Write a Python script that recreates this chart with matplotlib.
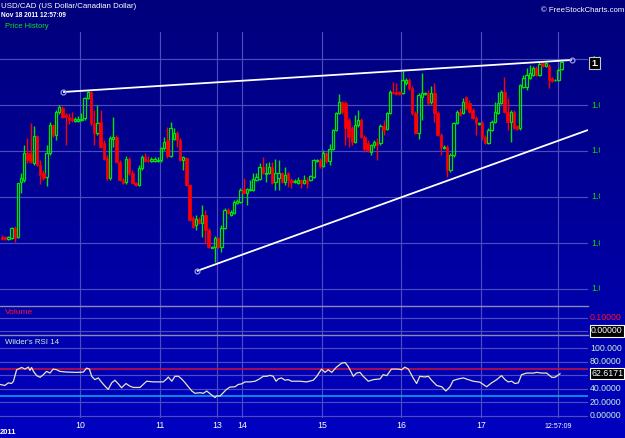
import numpy as np
import matplotlib
matplotlib.use("Agg")
import matplotlib.pyplot as plt
from matplotlib.patches import Rectangle
from matplotlib.colors import LinearSegmentedColormap
from matplotlib.transforms import Bbox, TransformedBbox, blended_transform_factory

# ---------------- data (hourly USD/CAD bars, prices in pips above 1.0000) ----------------
open_pips = [152,152,150,151,161,152,207,209,236,236,
             226,253,224,216,212,236,264,254,277,281,
             274,272,271,268,268,269,271,291,297,266,
             256,267,246,231,211,250,252,227,209,207,
             230,216,206,204,221,232,229,228,228,228,
             229,241,249,233,250,256,249,229,231,204,
             171,164,170,166,174,159,141,142,151,142,
             161,179,174,176,186,187,200,196,199,199,
             209,210,222,215,216,222,207,211,216,207,
             216,209,207,206,209,206,209,209,212,228,
             229,223,236,228,240,259,276,287,286,269,
             261,247,264,269,252,246,237,244,247,246,
             263,260,276,297,297,297,296,306,309,301,
             276,256,292,295,296,287,296,276,254,241,
             242,219,234,266,277,276,292,286,279,271,
             265,266,252,246,259,267,276,286,297,277,
             267,277,263,261,302,302,311,314,321,314,
             326,323,323,311,309,309,320]
high_pips = [154,153,153,162,163,206,216,244,251,266,
             263,254,229,219,244,267,265,279,284,283,
             276,276,277,272,273,276,292,298,298,279,
             284,279,249,234,253,272,254,229,211,233,
             232,219,207,224,234,236,233,232,232,232,
             242,252,262,267,261,258,251,233,232,205,
             173,174,172,184,179,161,143,153,152,164,
             181,181,179,189,190,201,211,201,209,216,
             216,226,232,226,227,227,230,229,217,222,
             217,211,210,212,210,214,212,214,230,230,
             231,239,237,245,260,277,295,288,288,271,
             263,274,279,271,254,249,245,249,251,265,
             269,277,299,307,306,298,318,311,311,303,
             278,296,316,297,299,303,306,278,256,244,
             244,236,267,279,281,291,293,289,281,273,
             267,268,254,261,269,287,297,299,312,291,
             279,279,264,305,314,321,324,323,323,327,
             327,327,325,312,310,321,328]
low_pips = [149,149,149,150,147,151,196,207,226,226,
            224,223,205,209,203,234,252,249,275,271,
            244,265,267,267,267,268,269,290,264,244,
            254,241,229,209,209,242,226,208,205,205,
            214,205,203,203,219,227,227,227,227,227,
            227,239,231,232,249,242,228,219,203,168,
            161,159,165,152,146,141,141,127,141,137,
            160,175,173,175,185,186,195,184,198,198,
            208,209,215,207,215,205,199,199,206,204,
            202,201,206,205,201,205,201,208,211,227,
            221,222,226,224,239,258,275,275,244,242,
            244,246,262,251,237,237,234,241,229,244,
            254,259,275,295,294,294,295,304,299,274,
            255,250,269,294,284,285,267,253,234,240,
            212,217,232,265,273,275,279,276,270,254,
            264,249,245,245,258,266,275,285,276,259,
            247,260,259,259,301,299,310,313,313,313,
            322,322,301,307,308,308,319]
close_pips = [150,150,152,161,151,206,211,236,229,227,
              253,224,214,211,236,264,254,277,282,272,
              272,269,269,270,270,270,291,297,266,256,
              266,242,230,211,251,252,227,209,206,230,
              216,206,204,221,232,228,228,230,230,229,
              241,247,233,261,256,249,229,232,204,169,
              162,170,166,174,159,142,142,151,142,161,
              179,176,177,187,188,199,196,200,200,210,
              212,222,216,216,222,206,216,216,207,214,
              209,207,208,209,206,209,206,213,229,229,
              223,236,228,240,259,276,287,277,261,252,
              247,264,269,252,240,239,244,247,244,263,
              259,276,297,296,295,295,309,309,301,276,
              256,294,296,296,286,296,276,254,242,242,
              219,234,266,277,274,287,281,277,271,266,
              266,252,246,259,267,277,286,297,277,267,
              277,261,260,304,311,314,316,321,314,325,
              323,326,309,308,309,319,327]

# Wilder's RSI 14 (bar position, value)
rsi_bar = [-0.6,0.9,2.0,3.0,3.6,4.6,6.2,7.2,8.3,8.8,9.3,9.9,10.9,12.0,13.0,14.0,15.1,16.1,17.2,18.2,
           20.3,23.5,25.6,26.6,27.5,28.2,29.2,30.3,31.3,32.4,33.4,34.5,35.5,36.6,37.6,39.0,40.2,41.3,43.4,44.4,
           45.5,47.6,50.7,51.8,52.3,53.4,54.4,55.5,56.5,57.6,58.6,59.7,60.7,62.3,63.3,64.4,65.4,67.0,67.5,68.6,
           69.6,70.6,71.7,73.3,74.3,75.4,76.4,78.0,79.6,80.6,82.2,83.2,84.3,85.3,86.2,86.9,87.9,89.0,90.0,91.1,
           93.7,95.8,97.9,99.0,100.5,101.6,102.6,103.7,105.2,106.8,107.9,108.9,110.5,111.5,112.6,113.6,115.2,116.8,118.9,119.9,
           121.0,122.5,124.6,125.7,126.7,127.8,129.3,130.4,131.4,133.0,134.1,135.1,136.7,138.3,139.6,140.9,141.9,143.5,145.1,146.6,
           148.2,150.3,152.4,154.0,155.6,157.1,158.2,159.2,160.3,161.3,162.4,163.4,165.0,167.1,168.2,169.7,171.3,172.9,173.9,175.5]
rsi_val = [46.7,45.2,49.1,48.1,51.5,68.5,71.9,69.5,72.4,67.5,71.9,66.1,59.8,57.3,61.2,66.1,63.6,69.5,68.5,66.1,
           65.1,64.6,65.1,70.9,69.5,58.8,53.9,56.4,50.1,44.2,39.4,49.1,53.0,47.6,41.8,48.1,44.2,42.3,42.3,46.7,
           51.5,50.5,50.5,54.9,57.8,51.5,58.8,58.8,54.9,49.1,43.3,37.0,33.6,34.5,33.6,37.0,33.1,27.3,29.7,29.7,
           34.5,39.4,42.8,43.3,46.7,47.6,50.5,50.5,51.5,53.9,58.8,58.8,60.2,58.8,51.5,54.9,56.4,53.0,53.9,51.5,
           51.5,50.5,53.0,58.8,69.5,64.6,68.5,64.6,72.4,78.2,79.2,73.3,58.8,63.6,64.6,58.8,51.5,53.9,54.9,61.2,
           59.8,69.5,69.5,68.5,72.4,69.5,56.4,48.1,58.8,57.8,58.8,53.0,45.2,43.3,37.0,43.3,52.5,54.9,56.4,53.9,
           51.5,50.1,43.3,49.1,53.9,59.8,53.9,50.5,51.5,48.1,49.1,61.2,63.6,63.6,64.6,63.6,63.6,57.3,57.3,62.6]
rsi_last = "62.6171"

# trendlines (bar position, price)
top_line_bar = [19.2, 179.2]
top_line_price = [1.0297, 1.0329]
low_line_bar = [61.3, 184.3]
low_line_price = [1.0118, 1.0259]

# axes / ticks
day_ticks = [24.5, 49.7, 67.6, 75.5, 100.6, 125.5, 150.6, 174.8]
day_labels = ["10", "11", "13", "14", "15", "16", "17", "12:57:09"]
price_levels = [1.0100, 1.0146, 1.0192, 1.0238, 1.0284, 1.0330]
last_price = "1.0327"
rsi_levels = [0, 20, 40, 60, 80, 100]
rsi_labels = ["0.00000", "20.0000", "40.0000", "60.0000", "80.0000", "100.000"]
vol_levels = [0.0, 0.1]

# ---------------- drawing ----------------
W, H = 625, 438
fig = plt.figure(figsize=(W / 100, H / 100), dpi=100)
FONT = ["Liberation Sans", "DejaVu Sans"]

def fx(px):
    return px / W

def fy(py):
    return 1 - py / H

bgax = fig.add_axes([0, 0, 1, 1], zorder=-10)
grad = np.linspace(0, 1, 256).reshape(-1, 1)
cmap = LinearSegmentedColormap.from_list("bg", ["#00007c", "#00009a", "#0000c2"])
bgax.imshow(grad, aspect="auto", cmap=cmap, extent=[0, 1, 0, 1], origin="upper")
bgax.axis("off")

GRID = "#4c4cc0"
GREEN = "#00e400"
RED = "#ff0000"
XL = (-0.63, 184.3)

def panel(rect):
    a = fig.add_axes(rect)
    a.set_facecolor("none")
    for s in a.spines.values():
        s.set_visible(False)
    a.set_xticks([])
    a.set_yticks([])
    a.set_xlim(*XL)
    for d in day_ticks:
        a.axvline(d, color=GRID, lw=0.85, zorder=0)
    return a

ax = panel([0, fy(306), fx(588), (306 - 32) / H])
axv = panel([0, fy(335), fx(588), 29 / H])
axr = panel([0, fy(418), fx(588), 83 / H])

# price panel
ax.set_ylim(1.0083, 1.0357)
for lv in price_levels:
    ax.axhline(lv, color=GRID, lw=0.85, zorder=0)

o = 1 + np.array(open_pips) / 10000
h = 1 + np.array(high_pips) / 10000
l = 1 + np.array(low_pips) / 10000
c = 1 + np.array(close_pips) / 10000
x = np.arange(len(o))
up = c >= o
top = np.maximum(o, c)
bot = np.minimum(o, c)
cols = np.where(up, GREEN, RED)
ax.vlines(x, top, h, colors=cols, lw=1.0, zorder=2)
ax.vlines(x, l, bot, colors=cols, lw=1.0, zorder=2)
bw = 0.74
ax.bar(x[up], (c - o)[up], bottom=o[up], width=bw, facecolor="none",
       edgecolor=GREEN, lw=0.9, zorder=3)
ax.bar(x[~up], (o - c)[~up], bottom=c[~up], width=bw, facecolor=RED,
       edgecolor=RED, lw=0.5, zorder=3)

ax.plot(top_line_bar, top_line_price, color="white", lw=1.3, zorder=4, solid_capstyle="butt")
ax.plot(low_line_bar, low_line_price, color="white", lw=1.3, zorder=4, solid_capstyle="butt")
ax.plot([top_line_bar[0], top_line_bar[1], low_line_bar[0]],
        [top_line_price[0], top_line_price[1], low_line_price[0]],
        "o", ms=3.5, mfc="none", mec="#9a9ae0", mew=0.9, zorder=5)

# volume panel
axv.set_ylim(-0.031, 0.192)
for lv in vol_levels:
    axv.axhline(lv, color=GRID, lw=0.85, zorder=0)

# rsi panel
axr.set_ylim(-3, 120)
for lv in rsi_levels:
    axr.axhline(lv, color=GRID, lw=0.85, zorder=0)
axr.axhline(70, color="#d0103c", lw=1.1, zorder=1)
axr.axhline(30, color="#00b4e8", lw=1.1, zorder=1)
axr.plot(rsi_bar, rsi_val, color="#e8e8c0", lw=0.9, zorder=3)

# separators
for py in (306, 335):
    fig.add_artist(plt.Line2D([0, fx(588)], [fy(py), fy(py)], transform=fig.transFigure,
                              color="#8a8ab0", lw=1.0))

# right-side labels
clip600 = TransformedBbox(Bbox([[0, 0], [fx(600), 1]]), fig.transFigure)
tp = blended_transform_factory(fig.transFigure, ax.transData)
for lv in price_levels:
    t = fig.text(fx(591), lv, f"{lv:.4f}", transform=tp, color=GREEN, fontsize=6.3,
                 family=FONT, va="center", ha="left")
    t.set_clip_box(clip600)
    t.set_clip_on(True)
fig.add_artist(Rectangle((fx(589), fy(69)), fx(11), 12 / H, transform=fig.transFigure,
                         facecolor="black", edgecolor="#c8c8c8", lw=0.8, zorder=5))
t = fig.text(fx(591), fy(63), last_price, color="white", fontsize=6.5, weight="bold",
             family=FONT, va="center", ha="left", zorder=6)
t.set_clip_box(TransformedBbox(Bbox([[0, 0], [fx(599), 1]]), fig.transFigure))
t.set_clip_on(True)

tv = blended_transform_factory(fig.transFigure, axv.transData)
fig.text(fx(590), 0.1, "0.10000", transform=tv, color="#ff1030", fontsize=6.3,
         family=FONT, va="center", ha="left")
fig.text(fx(591), 0.0, "0.00000", transform=tv, color="white", fontsize=6.3,
         family=FONT, va="center", ha="left",
         bbox=dict(boxstyle="square,pad=0.12", fc="black", ec="white", lw=0.8))

tr = blended_transform_factory(fig.transFigure, axr.transData)
for lv, lab in zip(rsi_levels, rsi_labels):
    if lab == "60.0000":
        continue
    fig.text(fx(590), lv, lab, transform=tr, color="#c4f4d0", fontsize=6.3,
             family=FONT, va="center", ha="left")
fig.text(fx(591), rsi_val[-1], rsi_last, transform=tr, color="white", fontsize=6.3,
         family=FONT, va="center", ha="left",
         bbox=dict(boxstyle="square,pad=0.12", fc="black", ec="white", lw=0.8))

# x labels
txd = blended_transform_factory(axr.transData, fig.transFigure)
for d, lab in zip(day_ticks, day_labels):
    small = ":" in lab
    fig.text(d, fy(426), lab, transform=txd, color="white",
             fontsize=5.0 if small else 6.3, family=FONT, ha="center", va="center")
fig.text(fx(0), fy(433), "2011", color="white", fontsize=5.4, weight="bold",
         family=FONT, ha="left", va="center")

# header texts
fig.text(fx(1), fy(6), "USD/CAD (US Dollar/Canadian Dollar)", color="white", fontsize=5.7,
         family=FONT, ha="left", va="center")
fig.text(fx(1), fy(15.5), "Nov 18 2011 12:57:09", color="white", fontsize=4.7, weight="bold",
         family=FONT, ha="left", va="center")
fig.text(fx(5), fy(27), "Price History", color="#10e020", fontsize=5.5,
         family=FONT, ha="left", va="center")
fig.text(fx(624), fy(10), "\u00a9 FreeStockCharts.com", color="white", fontsize=5.6,
         family=FONT, ha="right", va="center")
fig.text(fx(5), fy(313), "Volume", color="#ff1030", fontsize=6.0,
         family=FONT, ha="left", va="center")
fig.text(fx(5), fy(342.5), "Wilder's RSI 14", color="#c4f4d0", fontsize=5.7,
         family=FONT, ha="left", va="center")

fig.savefig("out.png", dpi=100)
